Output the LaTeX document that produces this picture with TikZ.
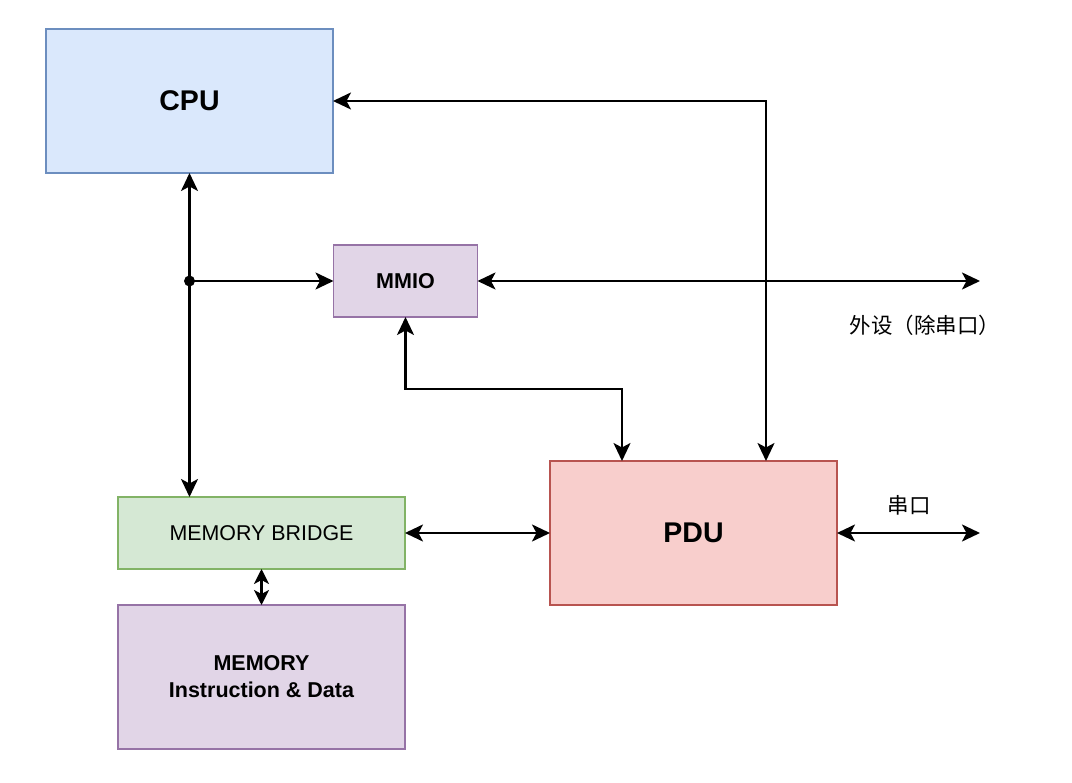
\documentclass[tikz,border=0pt]{standalone}
\usepackage{fontspec}
\setmainfont{Liberation Sans}
\newfontfamily\cjk{Noto Sans CJK SC}
\usetikzlibrary{arrows.meta,calc}
\definecolor{bluefill}{HTML}{DAE8FC}
\definecolor{bluedraw}{HTML}{6C8EBF}
\definecolor{purpfill}{HTML}{E1D5E7}
\definecolor{purpdraw}{HTML}{9673A6}
\definecolor{greenfill}{HTML}{D5E8D4}
\definecolor{greendraw}{HTML}{82B366}
\definecolor{redfill}{HTML}{F8CECC}
\definecolor{reddraw}{HTML}{B85450}
\tikzset{
  box/.style={rectangle, draw, line width=1.6pt, inner sep=0pt, outer sep=0pt, align=center},
  tip/.tip={Stealth[length=18pt,width=17pt,inset=4.5pt]},
  smalltip/.tip={Stealth[length=15pt,width=15pt,inset=4pt]},
  conn/.style={line width=2.2pt, tip-tip},
  shortconn/.style={line width=2.2pt, smalltip-smalltip},
  oneway/.style={line width=2.2pt, -tip},
  bigbold/.style={font=\fontsize{28.5}{34}\selectfont\bfseries},
  midbold/.style={font=\fontsize{21.5}{27}\selectfont\bfseries},
  midtext/.style={font=\fontsize{21.4}{27}\selectfont},
  cjktext/.style={font=\fontsize{21.5}{27}\selectfont\cjk}
}
\begin{document}
\begin{tikzpicture}[x=1pt,y=-1pt]
\useasboundingbox (0,0) rectangle (1072,783);
\node[box, fill=bluefill, draw=bluedraw, minimum width=287pt, minimum height=144pt, bigbold] (cpu) at (189.5,101) {CPU};
\node[box, fill=purpfill, draw=purpdraw, minimum width=144pt, minimum height=72pt, midbold] (mmio) at (405.5,281) {MMIO};
\node[box, fill=greenfill, draw=greendraw, minimum width=287pt, minimum height=72pt, midtext] (bridge) at (261.5,533) {MEMORY BRIDGE};
\node[box, fill=purpfill, draw=purpdraw, minimum width=287pt, minimum height=144pt, midbold] (mem) at (261.5,677) {MEMORY\\Instruction \& Data};
\node[box, fill=redfill, draw=reddraw, minimum width=287pt, minimum height=144pt, bigbold] (pdu) at (693.5,533) {PDU};

\coordinate (j) at (cpu.south |- mmio.west);
\coordinate (ext) at (980,281);
\coordinate (uart) at (980,533);
\coordinate (pa) at (622,461);
\coordinate (pb) at (766,461);
\coordinate (bend) at (0,389);

\draw[conn] (cpu.south) -- (cpu.south |- bridge.north);
\draw[oneway] (j) -- (mmio.west);
\fill (j) circle (5.5pt);
\draw[conn] (mmio.east) -- (ext);
\draw[conn] (mmio.south) -- (mmio.south |- bend) -| (pa);
\draw[conn] (cpu.east) -| (pb);
\draw[conn] (bridge.east) -- (pdu.west);
\draw[conn] (pdu.east) -- (uart);
\draw[shortconn] (bridge.south) -- (mem.north);

\node[cjktext] (extlabel) at (925,325) {外设（除串口）};
\node[cjktext] (uartlabel) at (909,505) {串口};
\end{tikzpicture}
\end{document}
